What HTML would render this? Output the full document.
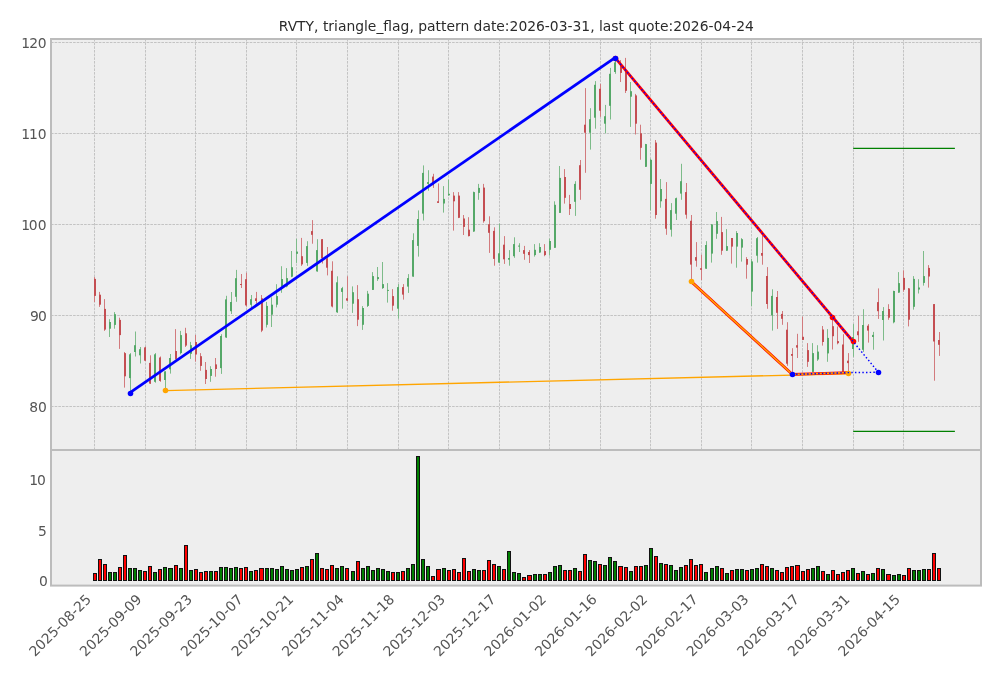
<!DOCTYPE html>
<html lang="en"><head><meta charset="utf-8"><title>RVTY triangle_flag</title>
<style>html,body{margin:0;padding:0;background:#fff;}body{width:1001px;height:678px;overflow:hidden;}svg{display:block;}text{font-family:"DejaVu Sans","Liberation Sans",sans-serif;font-size:13.89px;}.tk{fill:#555555;}.yt{letter-spacing:-0.6px;}.ttl{fill:#2b2b2b;}</style></head><body>
<svg width="1001" height="678" viewBox="0 0 1001 678">
<rect x="0" y="0" width="1001" height="678" fill="#ffffff"/>
<rect x="51.0" y="39.0" width="930.0" height="546.6" fill="#eeeeee"/>
<g stroke="#c3c3c3" stroke-width="1" stroke-dasharray="2.57 1.11" fill="none">
<line x1="94.50" y1="450.0" x2="94.50" y2="39.0"/>
<line x1="145.50" y1="450.0" x2="145.50" y2="39.0"/>
<line x1="195.50" y1="450.0" x2="195.50" y2="39.0"/>
<line x1="246.50" y1="450.0" x2="246.50" y2="39.0"/>
<line x1="296.50" y1="450.0" x2="296.50" y2="39.0"/>
<line x1="347.50" y1="450.0" x2="347.50" y2="39.0"/>
<line x1="398.50" y1="450.0" x2="398.50" y2="39.0"/>
<line x1="448.50" y1="450.0" x2="448.50" y2="39.0"/>
<line x1="499.50" y1="450.0" x2="499.50" y2="39.0"/>
<line x1="549.50" y1="450.0" x2="549.50" y2="39.0"/>
<line x1="600.50" y1="450.0" x2="600.50" y2="39.0"/>
<line x1="650.50" y1="450.0" x2="650.50" y2="39.0"/>
<line x1="701.50" y1="450.0" x2="701.50" y2="39.0"/>
<line x1="751.50" y1="450.0" x2="751.50" y2="39.0"/>
<line x1="802.50" y1="450.0" x2="802.50" y2="39.0"/>
<line x1="853.50" y1="450.0" x2="853.50" y2="39.0"/>
<line x1="903.50" y1="450.0" x2="903.50" y2="39.0"/>
<line x1="51.0" y1="406.50" x2="981.0" y2="406.50"/>
<line x1="51.0" y1="315.50" x2="981.0" y2="315.50"/>
<line x1="51.0" y1="224.50" x2="981.0" y2="224.50"/>
<line x1="51.0" y1="133.50" x2="981.0" y2="133.50"/>
<line x1="51.0" y1="42.50" x2="981.0" y2="42.50"/>
</g>
<g>
<rect x="94" y="277.1" width="1" height="24.9" fill="#d27a7d"/>
<rect x="99" y="291.9" width="1" height="15.0" fill="#d27a7d"/>
<rect x="104" y="299.1" width="1" height="31.8" fill="#d27a7d"/>
<rect x="109" y="319.2" width="1" height="17.8" fill="#7dbb89"/>
<rect x="114" y="312.1" width="1" height="16.6" fill="#7dbb89"/>
<rect x="119" y="317.7" width="1" height="31.2" fill="#d27a7d"/>
<rect x="124" y="352.0" width="1" height="35.6" fill="#d27a7d"/>
<rect x="130" y="353.1" width="1" height="37.9" fill="#7dbb89"/>
<rect x="135" y="331.5" width="1" height="25.0" fill="#7dbb89"/>
<rect x="140" y="347.0" width="1" height="16.5" fill="#7dbb89"/>
<rect x="145" y="346.7" width="1" height="14.4" fill="#d27a7d"/>
<rect x="150" y="355.3" width="1" height="28.7" fill="#d27a7d"/>
<rect x="155" y="353.1" width="1" height="29.6" fill="#7dbb89"/>
<rect x="160" y="356.5" width="1" height="25.3" fill="#d27a7d"/>
<rect x="165" y="371.4" width="1" height="19.2" fill="#7dbb89"/>
<rect x="170" y="354.0" width="1" height="19.6" fill="#7dbb89"/>
<rect x="175" y="329.1" width="1" height="30.4" fill="#d27a7d"/>
<rect x="180" y="330.9" width="1" height="23.4" fill="#7dbb89"/>
<rect x="185" y="327.8" width="1" height="19.2" fill="#d27a7d"/>
<rect x="190" y="341.9" width="1" height="17.0" fill="#7dbb89"/>
<rect x="195" y="334.9" width="1" height="26.7" fill="#d27a7d"/>
<rect x="200" y="353.1" width="1" height="17.7" fill="#d27a7d"/>
<rect x="205" y="362.0" width="1" height="22.0" fill="#d27a7d"/>
<rect x="210" y="366.2" width="1" height="15.6" fill="#7dbb89"/>
<rect x="215" y="358.0" width="1" height="18.7" fill="#d27a7d"/>
<rect x="221" y="334.2" width="1" height="39.7" fill="#7dbb89"/>
<rect x="226" y="295.8" width="1" height="42.1" fill="#7dbb89"/>
<rect x="231" y="292.0" width="1" height="22.0" fill="#7dbb89"/>
<rect x="236" y="269.9" width="1" height="31.9" fill="#7dbb89"/>
<rect x="241" y="274.0" width="1" height="14.0" fill="#d27a7d"/>
<rect x="246" y="272.7" width="1" height="33.9" fill="#d27a7d"/>
<rect x="251" y="295.0" width="1" height="13.0" fill="#7dbb89"/>
<rect x="256" y="291.9" width="1" height="11.8" fill="#d27a7d"/>
<rect x="261" y="295.0" width="1" height="37.1" fill="#d27a7d"/>
<rect x="266" y="301.9" width="1" height="25.6" fill="#7dbb89"/>
<rect x="271" y="297.3" width="1" height="29.7" fill="#7dbb89"/>
<rect x="276" y="284.2" width="1" height="23.2" fill="#7dbb89"/>
<rect x="281" y="266.2" width="1" height="26.6" fill="#7dbb89"/>
<rect x="286" y="268.1" width="1" height="19.2" fill="#7dbb89"/>
<rect x="291" y="251.0" width="1" height="26.2" fill="#7dbb89"/>
<rect x="296" y="238.8" width="1" height="24.1" fill="#7dbb89"/>
<rect x="301" y="237.9" width="1" height="28.0" fill="#d27a7d"/>
<rect x="307" y="241.2" width="1" height="24.7" fill="#7dbb89"/>
<rect x="312" y="220.1" width="1" height="23.6" fill="#d27a7d"/>
<rect x="317" y="239.2" width="1" height="32.5" fill="#7dbb89"/>
<rect x="322" y="239.2" width="1" height="24.3" fill="#d27a7d"/>
<rect x="327" y="247.0" width="1" height="28.4" fill="#d27a7d"/>
<rect x="332" y="261.3" width="1" height="46.1" fill="#d27a7d"/>
<rect x="337" y="276.3" width="1" height="36.6" fill="#7dbb89"/>
<rect x="342" y="286.9" width="1" height="21.8" fill="#7dbb89"/>
<rect x="347" y="276.3" width="1" height="24.7" fill="#d27a7d"/>
<rect x="352" y="286.4" width="1" height="26.5" fill="#7dbb89"/>
<rect x="357" y="285.1" width="1" height="41.0" fill="#d27a7d"/>
<rect x="362" y="306.1" width="1" height="23.8" fill="#7dbb89"/>
<rect x="367" y="290.9" width="1" height="16.1" fill="#7dbb89"/>
<rect x="372" y="272.1" width="1" height="17.8" fill="#7dbb89"/>
<rect x="377" y="267.0" width="1" height="13.9" fill="#7dbb89"/>
<rect x="382" y="262.0" width="1" height="26.9" fill="#7dbb89"/>
<rect x="387" y="283.1" width="1" height="19.5" fill="#7dbb89"/>
<rect x="392" y="289.1" width="1" height="21.6" fill="#d27a7d"/>
<rect x="398" y="284.1" width="1" height="34.6" fill="#7dbb89"/>
<rect x="403" y="284.1" width="1" height="15.5" fill="#d27a7d"/>
<rect x="408" y="274.1" width="1" height="18.8" fill="#7dbb89"/>
<rect x="413" y="233.3" width="1" height="43.4" fill="#7dbb89"/>
<rect x="418" y="210.4" width="1" height="46.2" fill="#7dbb89"/>
<rect x="423" y="165.4" width="1" height="55.1" fill="#7dbb89"/>
<rect x="428" y="170.2" width="1" height="20.5" fill="#7dbb89"/>
<rect x="433" y="173.8" width="1" height="14.1" fill="#d27a7d"/>
<rect x="438" y="183.4" width="1" height="19.5" fill="#d27a7d"/>
<rect x="443" y="186.1" width="1" height="26.5" fill="#7dbb89"/>
<rect x="448" y="179.7" width="1" height="15.9" fill="#7dbb89"/>
<rect x="453" y="192.1" width="1" height="38.5" fill="#d27a7d"/>
<rect x="458" y="192.1" width="1" height="26.0" fill="#d27a7d"/>
<rect x="463" y="215.0" width="1" height="20.0" fill="#d27a7d"/>
<rect x="468" y="217.2" width="1" height="19.2" fill="#d27a7d"/>
<rect x="473" y="191.6" width="1" height="40.3" fill="#7dbb89"/>
<rect x="478" y="183.9" width="1" height="15.9" fill="#7dbb89"/>
<rect x="483" y="183.9" width="1" height="38.8" fill="#d27a7d"/>
<rect x="489" y="216.3" width="1" height="36.6" fill="#d27a7d"/>
<rect x="494" y="227.3" width="1" height="38.4" fill="#d27a7d"/>
<rect x="499" y="223.6" width="1" height="39.4" fill="#7dbb89"/>
<rect x="504" y="236.1" width="1" height="27.8" fill="#d27a7d"/>
<rect x="509" y="250.1" width="1" height="15.6" fill="#7dbb89"/>
<rect x="514" y="237.3" width="1" height="20.5" fill="#7dbb89"/>
<rect x="519" y="243.2" width="1" height="8.8" fill="#7dbb89"/>
<rect x="524" y="245.9" width="1" height="13.9" fill="#d27a7d"/>
<rect x="529" y="250.1" width="1" height="12.9" fill="#d27a7d"/>
<rect x="534" y="244.1" width="1" height="12.5" fill="#7dbb89"/>
<rect x="539" y="243.2" width="1" height="9.7" fill="#7dbb89"/>
<rect x="544" y="244.1" width="1" height="12.1" fill="#d27a7d"/>
<rect x="549" y="238.6" width="1" height="17.0" fill="#7dbb89"/>
<rect x="554" y="201.3" width="1" height="46.5" fill="#7dbb89"/>
<rect x="559" y="166.0" width="1" height="46.6" fill="#7dbb89"/>
<rect x="564" y="169.1" width="1" height="34.5" fill="#d27a7d"/>
<rect x="569" y="194.9" width="1" height="20.1" fill="#d27a7d"/>
<rect x="575" y="181.2" width="1" height="34.7" fill="#7dbb89"/>
<rect x="580" y="160.0" width="1" height="39.8" fill="#d27a7d"/>
<rect x="585" y="88.1" width="1" height="84.7" fill="#d27a7d"/>
<rect x="590" y="108.2" width="1" height="41.4" fill="#7dbb89"/>
<rect x="595" y="81.1" width="1" height="47.6" fill="#7dbb89"/>
<rect x="600" y="83.9" width="1" height="32.9" fill="#d27a7d"/>
<rect x="605" y="104.9" width="1" height="28.4" fill="#7dbb89"/>
<rect x="610" y="67.9" width="1" height="51.6" fill="#7dbb89"/>
<rect x="615" y="58.5" width="1" height="15.3" fill="#7dbb89"/>
<rect x="620" y="60.1" width="1" height="21.9" fill="#d27a7d"/>
<rect x="625" y="57.9" width="1" height="35.1" fill="#d27a7d"/>
<rect x="630" y="82.0" width="1" height="44.9" fill="#7dbb89"/>
<rect x="635" y="93.9" width="1" height="40.6" fill="#d27a7d"/>
<rect x="640" y="124.7" width="1" height="35.0" fill="#d27a7d"/>
<rect x="645" y="143.9" width="1" height="23.1" fill="#7dbb89"/>
<rect x="650" y="158.6" width="1" height="51.8" fill="#7dbb89"/>
<rect x="655" y="140.0" width="1" height="78.7" fill="#d27a7d"/>
<rect x="660" y="179.0" width="1" height="28.7" fill="#7dbb89"/>
<rect x="666" y="182.1" width="1" height="52.7" fill="#d27a7d"/>
<rect x="671" y="203.1" width="1" height="33.5" fill="#7dbb89"/>
<rect x="676" y="197.6" width="1" height="22.4" fill="#7dbb89"/>
<rect x="681" y="163.8" width="1" height="36.0" fill="#7dbb89"/>
<rect x="686" y="183.0" width="1" height="35.7" fill="#d27a7d"/>
<rect x="691" y="215.0" width="1" height="66.5" fill="#d27a7d"/>
<rect x="696" y="242.1" width="1" height="24.6" fill="#d27a7d"/>
<rect x="701" y="254.8" width="1" height="25.3" fill="#d27a7d"/>
<rect x="706" y="241.2" width="1" height="27.6" fill="#7dbb89"/>
<rect x="711" y="224.2" width="1" height="38.4" fill="#7dbb89"/>
<rect x="716" y="212.0" width="1" height="26.8" fill="#7dbb89"/>
<rect x="721" y="216.9" width="1" height="37.9" fill="#d27a7d"/>
<rect x="726" y="229.1" width="1" height="21.9" fill="#7dbb89"/>
<rect x="731" y="238.0" width="1" height="25.6" fill="#d27a7d"/>
<rect x="736" y="231.1" width="1" height="36.6" fill="#7dbb89"/>
<rect x="741" y="238.1" width="1" height="23.5" fill="#7dbb89"/>
<rect x="746" y="257.1" width="1" height="21.6" fill="#d27a7d"/>
<rect x="751" y="259.0" width="1" height="47.2" fill="#7dbb89"/>
<rect x="757" y="237.0" width="1" height="25.6" fill="#7dbb89"/>
<rect x="762" y="235.4" width="1" height="29.3" fill="#d27a7d"/>
<rect x="767" y="267.1" width="1" height="41.7" fill="#d27a7d"/>
<rect x="772" y="289.3" width="1" height="41.3" fill="#7dbb89"/>
<rect x="777" y="291.0" width="1" height="37.9" fill="#d27a7d"/>
<rect x="782" y="311.0" width="1" height="13.8" fill="#d27a7d"/>
<rect x="787" y="322.2" width="1" height="43.6" fill="#d27a7d"/>
<rect x="792" y="348.2" width="1" height="23.7" fill="#d27a7d"/>
<rect x="797" y="333.8" width="1" height="24.2" fill="#d27a7d"/>
<rect x="802" y="316.6" width="1" height="23.3" fill="#d27a7d"/>
<rect x="807" y="343.1" width="1" height="23.8" fill="#d27a7d"/>
<rect x="812" y="343.1" width="1" height="28.8" fill="#7dbb89"/>
<rect x="817" y="345.2" width="1" height="15.7" fill="#7dbb89"/>
<rect x="822" y="326.0" width="1" height="19.6" fill="#d27a7d"/>
<rect x="827" y="329.1" width="1" height="32.7" fill="#7dbb89"/>
<rect x="832" y="316.9" width="1" height="32.6" fill="#d27a7d"/>
<rect x="837" y="326.5" width="1" height="17.8" fill="#d27a7d"/>
<rect x="843" y="334.2" width="1" height="37.7" fill="#d27a7d"/>
<rect x="848" y="353.1" width="1" height="18.8" fill="#d27a7d"/>
<rect x="853" y="324.1" width="1" height="32.7" fill="#7dbb89"/>
<rect x="858" y="315.8" width="1" height="26.0" fill="#d27a7d"/>
<rect x="863" y="309.2" width="1" height="42.7" fill="#7dbb89"/>
<rect x="868" y="324.1" width="1" height="18.5" fill="#d27a7d"/>
<rect x="873" y="331.9" width="1" height="17.8" fill="#7dbb89"/>
<rect x="878" y="288.4" width="1" height="30.5" fill="#d27a7d"/>
<rect x="883" y="307.1" width="1" height="33.4" fill="#7dbb89"/>
<rect x="888" y="304.2" width="1" height="15.6" fill="#d27a7d"/>
<rect x="893" y="290.7" width="1" height="32.6" fill="#7dbb89"/>
<rect x="898" y="272.1" width="1" height="20.8" fill="#7dbb89"/>
<rect x="903" y="270.3" width="1" height="21.4" fill="#d27a7d"/>
<rect x="908" y="288.0" width="1" height="38.4" fill="#d27a7d"/>
<rect x="913" y="276.1" width="1" height="33.5" fill="#7dbb89"/>
<rect x="918" y="279.2" width="1" height="14.3" fill="#7dbb89"/>
<rect x="923" y="251.0" width="1" height="34.6" fill="#7dbb89"/>
<rect x="928" y="265.1" width="1" height="22.5" fill="#d27a7d"/>
<rect x="934" y="304.1" width="1" height="76.6" fill="#d27a7d"/>
<rect x="939" y="332.0" width="1" height="23.9" fill="#d27a7d"/>
</g><g>
<rect x="94" y="278.9" width="2" height="17.0" fill="#c44e52"/>
<rect x="99" y="294.7" width="2" height="10.0" fill="#c44e52"/>
<rect x="104" y="308.9" width="2" height="20.7" fill="#c44e52"/>
<rect x="109" y="322.0" width="2" height="6.7" fill="#55a868"/>
<rect x="114" y="314.2" width="2" height="10.7" fill="#55a868"/>
<rect x="119" y="319.9" width="2" height="15.2" fill="#c44e52"/>
<rect x="124" y="353.1" width="2" height="23.2" fill="#c44e52"/>
<rect x="129" y="354.3" width="2" height="23.8" fill="#55a868"/>
<rect x="134" y="345.2" width="2" height="6.8" fill="#55a868"/>
<rect x="139" y="349.2" width="2" height="6.1" fill="#55a868"/>
<rect x="144" y="347.4" width="2" height="13.3" fill="#c44e52"/>
<rect x="149" y="362.9" width="2" height="20.7" fill="#c44e52"/>
<rect x="154" y="354.3" width="2" height="27.5" fill="#55a868"/>
<rect x="159" y="357.5" width="2" height="23.4" fill="#c44e52"/>
<rect x="164" y="371.4" width="2" height="8.6" fill="#55a868"/>
<rect x="169" y="358.0" width="2" height="11.3" fill="#55a868"/>
<rect x="175" y="351.0" width="2" height="7.9" fill="#c44e52"/>
<rect x="180" y="335.1" width="2" height="18.0" fill="#55a868"/>
<rect x="185" y="333.3" width="2" height="12.3" fill="#c44e52"/>
<rect x="190" y="345.2" width="2" height="8.6" fill="#55a868"/>
<rect x="195" y="342.0" width="2" height="12.5" fill="#c44e52"/>
<rect x="200" y="356.2" width="2" height="9.7" fill="#c44e52"/>
<rect x="205" y="369.9" width="2" height="9.1" fill="#c44e52"/>
<rect x="210" y="369.0" width="2" height="6.9" fill="#55a868"/>
<rect x="215" y="364.4" width="2" height="4.6" fill="#c44e52"/>
<rect x="220" y="336.0" width="2" height="32.1" fill="#55a868"/>
<rect x="225" y="299.4" width="2" height="38.1" fill="#55a868"/>
<rect x="230" y="302.0" width="2" height="9.2" fill="#55a868"/>
<rect x="235" y="278.2" width="2" height="18.6" fill="#55a868"/>
<rect x="240" y="284.0" width="2" height="1.0" fill="#c44e52"/>
<rect x="245" y="279.2" width="2" height="26.2" fill="#c44e52"/>
<rect x="250" y="299.2" width="2" height="5.6" fill="#55a868"/>
<rect x="255" y="298.3" width="2" height="2.7" fill="#c44e52"/>
<rect x="261" y="298.3" width="2" height="32.3" fill="#c44e52"/>
<rect x="266" y="305.9" width="2" height="18.9" fill="#55a868"/>
<rect x="271" y="304.7" width="2" height="10.0" fill="#55a868"/>
<rect x="276" y="296.1" width="2" height="8.6" fill="#55a868"/>
<rect x="281" y="279.0" width="2" height="7.4" fill="#55a868"/>
<rect x="286" y="278.1" width="2" height="8.3" fill="#55a868"/>
<rect x="291" y="267.2" width="2" height="9.5" fill="#55a868"/>
<rect x="296" y="251.6" width="2" height="2.2" fill="#55a868"/>
<rect x="301" y="256.2" width="2" height="8.2" fill="#c44e52"/>
<rect x="306" y="246.1" width="2" height="16.8" fill="#55a868"/>
<rect x="311" y="231.1" width="2" height="3.7" fill="#c44e52"/>
<rect x="316" y="250.1" width="2" height="21.3" fill="#55a868"/>
<rect x="321" y="239.2" width="2" height="19.2" fill="#c44e52"/>
<rect x="326" y="258.4" width="2" height="9.3" fill="#c44e52"/>
<rect x="331" y="270.8" width="2" height="35.7" fill="#c44e52"/>
<rect x="336" y="282.3" width="2" height="30.0" fill="#55a868"/>
<rect x="341" y="288.2" width="2" height="3.7" fill="#55a868"/>
<rect x="346" y="298.3" width="2" height="2.3" fill="#c44e52"/>
<rect x="352" y="292.2" width="2" height="11.5" fill="#55a868"/>
<rect x="357" y="299.2" width="2" height="20.5" fill="#c44e52"/>
<rect x="362" y="308.0" width="2" height="16.8" fill="#55a868"/>
<rect x="367" y="293.7" width="2" height="12.2" fill="#55a868"/>
<rect x="372" y="276.1" width="2" height="13.8" fill="#55a868"/>
<rect x="377" y="277.1" width="2" height="2.0" fill="#55a868"/>
<rect x="382" y="284.1" width="2" height="4.0" fill="#55a868"/>
<rect x="387" y="289.9" width="2" height="1.0" fill="#55a868"/>
<rect x="392" y="296.1" width="2" height="9.6" fill="#c44e52"/>
<rect x="397" y="287.1" width="2" height="21.6" fill="#55a868"/>
<rect x="402" y="287.1" width="2" height="7.5" fill="#c44e52"/>
<rect x="407" y="278.1" width="2" height="8.5" fill="#55a868"/>
<rect x="412" y="240.1" width="2" height="36.5" fill="#55a868"/>
<rect x="417" y="219.0" width="2" height="26.9" fill="#55a868"/>
<rect x="422" y="172.9" width="2" height="40.7" fill="#55a868"/>
<rect x="427" y="182.1" width="2" height="1.8" fill="#55a868"/>
<rect x="432" y="176.6" width="2" height="8.6" fill="#c44e52"/>
<rect x="437" y="201.3" width="2" height="1.6" fill="#c44e52"/>
<rect x="443" y="198.9" width="2" height="4.6" fill="#55a868"/>
<rect x="448" y="193.8" width="2" height="1.5" fill="#55a868"/>
<rect x="453" y="195.6" width="2" height="5.7" fill="#c44e52"/>
<rect x="458" y="195.6" width="2" height="22.2" fill="#c44e52"/>
<rect x="463" y="218.5" width="2" height="8.4" fill="#c44e52"/>
<rect x="468" y="229.7" width="2" height="6.4" fill="#c44e52"/>
<rect x="473" y="192.1" width="2" height="39.4" fill="#55a868"/>
<rect x="478" y="187.9" width="2" height="5.0" fill="#55a868"/>
<rect x="483" y="187.6" width="2" height="33.6" fill="#c44e52"/>
<rect x="488" y="224.2" width="2" height="8.6" fill="#c44e52"/>
<rect x="493" y="230.9" width="2" height="28.0" fill="#c44e52"/>
<rect x="498" y="253.3" width="2" height="9.3" fill="#55a868"/>
<rect x="503" y="244.7" width="2" height="14.6" fill="#c44e52"/>
<rect x="508" y="258.0" width="2" height="1.7" fill="#55a868"/>
<rect x="513" y="244.1" width="2" height="12.1" fill="#55a868"/>
<rect x="518" y="245.6" width="2" height="1.0" fill="#55a868"/>
<rect x="523" y="250.1" width="2" height="3.7" fill="#c44e52"/>
<rect x="528" y="252.0" width="2" height="3.1" fill="#c44e52"/>
<rect x="534" y="249.8" width="2" height="5.3" fill="#55a868"/>
<rect x="539" y="247.0" width="2" height="5.5" fill="#55a868"/>
<rect x="544" y="251.1" width="2" height="4.0" fill="#c44e52"/>
<rect x="549" y="241.0" width="2" height="8.8" fill="#55a868"/>
<rect x="554" y="204.8" width="2" height="43.0" fill="#55a868"/>
<rect x="559" y="177.9" width="2" height="35.0" fill="#55a868"/>
<rect x="564" y="177.0" width="2" height="20.8" fill="#c44e52"/>
<rect x="569" y="204.0" width="2" height="5.0" fill="#c44e52"/>
<rect x="574" y="183.9" width="2" height="17.9" fill="#55a868"/>
<rect x="579" y="165.2" width="2" height="24.6" fill="#c44e52"/>
<rect x="584" y="124.7" width="2" height="8.0" fill="#c44e52"/>
<rect x="589" y="119.2" width="2" height="13.5" fill="#55a868"/>
<rect x="594" y="84.8" width="2" height="32.9" fill="#55a868"/>
<rect x="599" y="88.8" width="2" height="21.9" fill="#c44e52"/>
<rect x="604" y="116.2" width="2" height="7.5" fill="#55a868"/>
<rect x="609" y="73.8" width="2" height="32.0" fill="#55a868"/>
<rect x="614" y="62.4" width="2" height="9.6" fill="#55a868"/>
<rect x="620" y="65.6" width="2" height="7.3" fill="#c44e52"/>
<rect x="625" y="70.5" width="2" height="20.3" fill="#c44e52"/>
<rect x="630" y="91.2" width="2" height="5.5" fill="#55a868"/>
<rect x="635" y="95.4" width="2" height="28.3" fill="#c44e52"/>
<rect x="640" y="133.3" width="2" height="14.5" fill="#c44e52"/>
<rect x="645" y="144.1" width="2" height="22.7" fill="#55a868"/>
<rect x="650" y="159.8" width="2" height="24.1" fill="#55a868"/>
<rect x="655" y="142.6" width="2" height="72.4" fill="#c44e52"/>
<rect x="660" y="189.0" width="2" height="12.3" fill="#55a868"/>
<rect x="665" y="198.9" width="2" height="29.8" fill="#c44e52"/>
<rect x="670" y="210.1" width="2" height="19.6" fill="#55a868"/>
<rect x="675" y="198.2" width="2" height="15.5" fill="#55a868"/>
<rect x="680" y="181.2" width="2" height="12.4" fill="#55a868"/>
<rect x="685" y="192.1" width="2" height="22.6" fill="#c44e52"/>
<rect x="690" y="220.8" width="2" height="43.8" fill="#c44e52"/>
<rect x="695" y="257.1" width="2" height="3.6" fill="#c44e52"/>
<rect x="700" y="268.2" width="2" height="1.6" fill="#c44e52"/>
<rect x="705" y="245.0" width="2" height="23.7" fill="#55a868"/>
<rect x="711" y="224.4" width="2" height="29.2" fill="#55a868"/>
<rect x="716" y="221.1" width="2" height="12.7" fill="#55a868"/>
<rect x="721" y="232.1" width="2" height="18.6" fill="#c44e52"/>
<rect x="726" y="246.1" width="2" height="4.6" fill="#55a868"/>
<rect x="731" y="238.0" width="2" height="8.6" fill="#c44e52"/>
<rect x="736" y="233.0" width="2" height="13.6" fill="#55a868"/>
<rect x="741" y="239.2" width="2" height="8.4" fill="#55a868"/>
<rect x="746" y="259.0" width="2" height="5.7" fill="#c44e52"/>
<rect x="751" y="261.4" width="2" height="30.2" fill="#55a868"/>
<rect x="756" y="238.2" width="2" height="17.5" fill="#55a868"/>
<rect x="761" y="253.0" width="2" height="2.7" fill="#c44e52"/>
<rect x="766" y="276.0" width="2" height="28.0" fill="#c44e52"/>
<rect x="771" y="295.9" width="2" height="19.6" fill="#55a868"/>
<rect x="776" y="297.0" width="2" height="15.8" fill="#c44e52"/>
<rect x="781" y="313.9" width="2" height="4.9" fill="#c44e52"/>
<rect x="786" y="329.7" width="2" height="34.0" fill="#c44e52"/>
<rect x="791" y="354.0" width="2" height="1.8" fill="#c44e52"/>
<rect x="796" y="345.2" width="2" height="2.4" fill="#c44e52"/>
<rect x="802" y="336.8" width="2" height="3.1" fill="#c44e52"/>
<rect x="807" y="350.1" width="2" height="11.7" fill="#c44e52"/>
<rect x="812" y="353.1" width="2" height="18.8" fill="#55a868"/>
<rect x="817" y="351.6" width="2" height="7.9" fill="#55a868"/>
<rect x="822" y="329.5" width="2" height="12.5" fill="#c44e52"/>
<rect x="827" y="337.9" width="2" height="15.5" fill="#55a868"/>
<rect x="832" y="326.2" width="2" height="10.0" fill="#c44e52"/>
<rect x="837" y="341.1" width="2" height="2.1" fill="#c44e52"/>
<rect x="842" y="344.5" width="2" height="27.4" fill="#c44e52"/>
<rect x="847" y="360.7" width="2" height="2.4" fill="#c44e52"/>
<rect x="852" y="337.0" width="2" height="12.0" fill="#55a868"/>
<rect x="857" y="331.3" width="2" height="3.9" fill="#c44e52"/>
<rect x="862" y="325.0" width="2" height="24.8" fill="#55a868"/>
<rect x="867" y="325.7" width="2" height="4.9" fill="#c44e52"/>
<rect x="872" y="334.9" width="2" height="2.1" fill="#55a868"/>
<rect x="877" y="302.1" width="2" height="9.1" fill="#c44e52"/>
<rect x="882" y="311.0" width="2" height="9.0" fill="#55a868"/>
<rect x="888" y="309.0" width="2" height="8.7" fill="#c44e52"/>
<rect x="893" y="291.0" width="2" height="31.3" fill="#55a868"/>
<rect x="898" y="283.1" width="2" height="9.5" fill="#55a868"/>
<rect x="903" y="277.9" width="2" height="11.9" fill="#c44e52"/>
<rect x="908" y="288.4" width="2" height="31.3" fill="#c44e52"/>
<rect x="913" y="278.9" width="2" height="27.9" fill="#55a868"/>
<rect x="918" y="287.5" width="2" height="2.0" fill="#55a868"/>
<rect x="923" y="276.1" width="2" height="6.8" fill="#55a868"/>
<rect x="928" y="267.9" width="2" height="8.6" fill="#c44e52"/>
<rect x="933" y="304.1" width="2" height="37.4" fill="#c44e52"/>
<rect x="938" y="340.0" width="2" height="4.8" fill="#c44e52"/>
</g>
<line x1="165.4" y1="390.6" x2="848.1" y2="373.7" stroke="#ffa500" stroke-width="1.4"/>
<circle cx="165.5" cy="390.5" r="2.78" fill="#ffa500"/>
<line x1="615.46" y1="58.2" x2="853.1" y2="341.5" stroke="#ff0000" stroke-width="2.8"/>
<circle cx="615.5" cy="58.5" r="2.78" fill="#ff0000"/>
<circle cx="832.5" cy="317.5" r="2.78" fill="#ff0000"/>
<circle cx="853.5" cy="341.5" r="2.78" fill="#ff0000"/>
<polyline points="691.3,281.6 792.44,374.45 848.1,372.6" fill="none" stroke="#ff0000" stroke-width="2.8" stroke-linejoin="round"/>
<polyline points="691.3,281.6 792.44,374.45 848.1,372.6" fill="none" stroke="#ffa500" stroke-width="1.5" stroke-linejoin="round"/>
<circle cx="691.5" cy="281.5" r="2.78" fill="#ffa500"/>
<circle cx="848.5" cy="373.5" r="2.78" fill="#ffa500"/>
<line x1="130.04" y1="392.6" x2="615.46" y2="57.3" stroke="#0000ff" stroke-width="2.8" stroke-linecap="butt"/>
<g stroke="#0000ff" stroke-width="1.45" stroke-dasharray="1.45 2.23" fill="none">
<polyline points="615.46,58.2 853.1,341.5 878.4,372.3"/>
<polyline points="792.44,374.45 848.1,372.6 878.4,372.3"/>
</g>
<line x1="853.2" y1="148.4" x2="954.9" y2="148.4" stroke="#008000" stroke-width="1.4"/>
<line x1="853.2" y1="431.4" x2="954.9" y2="431.4" stroke="#008000" stroke-width="1.4"/>
<circle cx="130.5" cy="393.5" r="2.78" fill="#0000ff"/>
<circle cx="615.5" cy="58.5" r="2.78" fill="#0000ff"/>
<circle cx="792.5" cy="374.5" r="2.78" fill="#0000ff"/>
<circle cx="878.5" cy="372.5" r="2.78" fill="#0000ff"/>
<g shape-rendering="crispEdges">
<rect x="93" y="573" width="4" height="8" fill="#111111"/><rect x="94" y="574" width="2" height="6" fill="#ff0000"/>
<rect x="98" y="559" width="4" height="22" fill="#111111"/><rect x="99" y="560" width="2" height="20" fill="#ff0000"/>
<rect x="103" y="564" width="4" height="17" fill="#111111"/><rect x="104" y="565" width="2" height="15" fill="#ff0000"/>
<rect x="108" y="572" width="4" height="9" fill="#111111"/><rect x="109" y="573" width="2" height="7" fill="#008000"/>
<rect x="113" y="572" width="4" height="9" fill="#111111"/><rect x="114" y="573" width="2" height="7" fill="#008000"/>
<rect x="118" y="567" width="4" height="14" fill="#111111"/><rect x="119" y="568" width="2" height="12" fill="#ff0000"/>
<rect x="123" y="555" width="4" height="26" fill="#111111"/><rect x="124" y="556" width="2" height="24" fill="#ff0000"/>
<rect x="128" y="568" width="4" height="13" fill="#111111"/><rect x="129" y="569" width="2" height="11" fill="#008000"/>
<rect x="133" y="568" width="4" height="13" fill="#111111"/><rect x="134" y="569" width="2" height="11" fill="#008000"/>
<rect x="138" y="570" width="4" height="11" fill="#111111"/><rect x="139" y="571" width="2" height="9" fill="#008000"/>
<rect x="143" y="571" width="4" height="10" fill="#111111"/><rect x="144" y="572" width="2" height="8" fill="#ff0000"/>
<rect x="148" y="566" width="4" height="15" fill="#111111"/><rect x="149" y="567" width="2" height="13" fill="#ff0000"/>
<rect x="153" y="572" width="4" height="9" fill="#111111"/><rect x="154" y="573" width="2" height="7" fill="#008000"/>
<rect x="158" y="569" width="4" height="12" fill="#111111"/><rect x="159" y="570" width="2" height="10" fill="#ff0000"/>
<rect x="163" y="567" width="4" height="14" fill="#111111"/><rect x="164" y="568" width="2" height="12" fill="#008000"/>
<rect x="168" y="568" width="5" height="13" fill="#111111"/><rect x="169" y="569" width="3" height="11" fill="#008000"/>
<rect x="174" y="565" width="4" height="16" fill="#111111"/><rect x="175" y="566" width="2" height="14" fill="#ff0000"/>
<rect x="179" y="568" width="4" height="13" fill="#111111"/><rect x="180" y="569" width="2" height="11" fill="#008000"/>
<rect x="184" y="545" width="4" height="36" fill="#111111"/><rect x="185" y="546" width="2" height="34" fill="#ff0000"/>
<rect x="189" y="570" width="4" height="11" fill="#111111"/><rect x="190" y="571" width="2" height="9" fill="#008000"/>
<rect x="194" y="569" width="4" height="12" fill="#111111"/><rect x="195" y="570" width="2" height="10" fill="#ff0000"/>
<rect x="199" y="572" width="4" height="9" fill="#111111"/><rect x="200" y="573" width="2" height="7" fill="#ff0000"/>
<rect x="204" y="571" width="4" height="10" fill="#111111"/><rect x="205" y="572" width="2" height="8" fill="#ff0000"/>
<rect x="209" y="571" width="4" height="10" fill="#111111"/><rect x="210" y="572" width="2" height="8" fill="#008000"/>
<rect x="214" y="571" width="4" height="10" fill="#111111"/><rect x="215" y="572" width="2" height="8" fill="#ff0000"/>
<rect x="219" y="567" width="4" height="14" fill="#111111"/><rect x="220" y="568" width="2" height="12" fill="#008000"/>
<rect x="224" y="567" width="4" height="14" fill="#111111"/><rect x="225" y="568" width="2" height="12" fill="#008000"/>
<rect x="229" y="568" width="4" height="13" fill="#111111"/><rect x="230" y="569" width="2" height="11" fill="#008000"/>
<rect x="234" y="567" width="4" height="14" fill="#111111"/><rect x="235" y="568" width="2" height="12" fill="#008000"/>
<rect x="239" y="568" width="4" height="13" fill="#111111"/><rect x="240" y="569" width="2" height="11" fill="#ff0000"/>
<rect x="244" y="567" width="4" height="14" fill="#111111"/><rect x="245" y="568" width="2" height="12" fill="#ff0000"/>
<rect x="249" y="571" width="4" height="10" fill="#111111"/><rect x="250" y="572" width="2" height="8" fill="#008000"/>
<rect x="254" y="570" width="4" height="11" fill="#111111"/><rect x="255" y="571" width="2" height="9" fill="#ff0000"/>
<rect x="259" y="568" width="5" height="13" fill="#111111"/><rect x="260" y="569" width="3" height="11" fill="#ff0000"/>
<rect x="265" y="568" width="4" height="13" fill="#111111"/><rect x="266" y="569" width="2" height="11" fill="#008000"/>
<rect x="270" y="568" width="4" height="13" fill="#111111"/><rect x="271" y="569" width="2" height="11" fill="#008000"/>
<rect x="275" y="569" width="4" height="12" fill="#111111"/><rect x="276" y="570" width="2" height="10" fill="#008000"/>
<rect x="280" y="566" width="4" height="15" fill="#111111"/><rect x="281" y="567" width="2" height="13" fill="#008000"/>
<rect x="285" y="569" width="4" height="12" fill="#111111"/><rect x="286" y="570" width="2" height="10" fill="#008000"/>
<rect x="290" y="570" width="4" height="11" fill="#111111"/><rect x="291" y="571" width="2" height="9" fill="#008000"/>
<rect x="295" y="569" width="4" height="12" fill="#111111"/><rect x="296" y="570" width="2" height="10" fill="#008000"/>
<rect x="300" y="567" width="4" height="14" fill="#111111"/><rect x="301" y="568" width="2" height="12" fill="#ff0000"/>
<rect x="305" y="566" width="4" height="15" fill="#111111"/><rect x="306" y="567" width="2" height="13" fill="#008000"/>
<rect x="310" y="559" width="4" height="22" fill="#111111"/><rect x="311" y="560" width="2" height="20" fill="#ff0000"/>
<rect x="315" y="553" width="4" height="28" fill="#111111"/><rect x="316" y="554" width="2" height="26" fill="#008000"/>
<rect x="320" y="568" width="4" height="13" fill="#111111"/><rect x="321" y="569" width="2" height="11" fill="#ff0000"/>
<rect x="325" y="569" width="4" height="12" fill="#111111"/><rect x="326" y="570" width="2" height="10" fill="#ff0000"/>
<rect x="330" y="565" width="4" height="16" fill="#111111"/><rect x="331" y="566" width="2" height="14" fill="#ff0000"/>
<rect x="335" y="568" width="4" height="13" fill="#111111"/><rect x="336" y="569" width="2" height="11" fill="#008000"/>
<rect x="340" y="566" width="4" height="15" fill="#111111"/><rect x="341" y="567" width="2" height="13" fill="#008000"/>
<rect x="345" y="568" width="4" height="13" fill="#111111"/><rect x="346" y="569" width="2" height="11" fill="#ff0000"/>
<rect x="351" y="571" width="4" height="10" fill="#111111"/><rect x="352" y="572" width="2" height="8" fill="#008000"/>
<rect x="356" y="561" width="4" height="20" fill="#111111"/><rect x="357" y="562" width="2" height="18" fill="#ff0000"/>
<rect x="361" y="568" width="4" height="13" fill="#111111"/><rect x="362" y="569" width="2" height="11" fill="#008000"/>
<rect x="366" y="566" width="4" height="15" fill="#111111"/><rect x="367" y="567" width="2" height="13" fill="#008000"/>
<rect x="371" y="570" width="4" height="11" fill="#111111"/><rect x="372" y="571" width="2" height="9" fill="#008000"/>
<rect x="376" y="568" width="4" height="13" fill="#111111"/><rect x="377" y="569" width="2" height="11" fill="#008000"/>
<rect x="381" y="569" width="4" height="12" fill="#111111"/><rect x="382" y="570" width="2" height="10" fill="#008000"/>
<rect x="386" y="571" width="4" height="10" fill="#111111"/><rect x="387" y="572" width="2" height="8" fill="#008000"/>
<rect x="391" y="572" width="4" height="9" fill="#111111"/><rect x="392" y="573" width="2" height="7" fill="#ff0000"/>
<rect x="396" y="572" width="4" height="9" fill="#111111"/><rect x="397" y="573" width="2" height="7" fill="#008000"/>
<rect x="401" y="571" width="4" height="10" fill="#111111"/><rect x="402" y="572" width="2" height="8" fill="#ff0000"/>
<rect x="406" y="568" width="4" height="13" fill="#111111"/><rect x="407" y="569" width="2" height="11" fill="#008000"/>
<rect x="411" y="564" width="4" height="17" fill="#111111"/><rect x="412" y="565" width="2" height="15" fill="#008000"/>
<rect x="416" y="456" width="4" height="125" fill="#111111"/><rect x="417" y="457" width="2" height="123" fill="#008000"/>
<rect x="421" y="559" width="4" height="22" fill="#111111"/><rect x="422" y="560" width="2" height="20" fill="#008000"/>
<rect x="426" y="566" width="4" height="15" fill="#111111"/><rect x="427" y="567" width="2" height="13" fill="#008000"/>
<rect x="431" y="576" width="4" height="5" fill="#111111"/><rect x="432" y="577" width="2" height="3" fill="#ff0000"/>
<rect x="436" y="569" width="5" height="12" fill="#111111"/><rect x="437" y="570" width="3" height="10" fill="#ff0000"/>
<rect x="442" y="568" width="4" height="13" fill="#111111"/><rect x="443" y="569" width="2" height="11" fill="#008000"/>
<rect x="447" y="570" width="4" height="11" fill="#111111"/><rect x="448" y="571" width="2" height="9" fill="#ff0000"/>
<rect x="452" y="569" width="4" height="12" fill="#111111"/><rect x="453" y="570" width="2" height="10" fill="#ff0000"/>
<rect x="457" y="572" width="4" height="9" fill="#111111"/><rect x="458" y="573" width="2" height="7" fill="#ff0000"/>
<rect x="462" y="558" width="4" height="23" fill="#111111"/><rect x="463" y="559" width="2" height="21" fill="#ff0000"/>
<rect x="467" y="571" width="4" height="10" fill="#111111"/><rect x="468" y="572" width="2" height="8" fill="#ff0000"/>
<rect x="472" y="569" width="4" height="12" fill="#111111"/><rect x="473" y="570" width="2" height="10" fill="#008000"/>
<rect x="477" y="570" width="4" height="11" fill="#111111"/><rect x="478" y="571" width="2" height="9" fill="#008000"/>
<rect x="482" y="570" width="4" height="11" fill="#111111"/><rect x="483" y="571" width="2" height="9" fill="#ff0000"/>
<rect x="487" y="560" width="4" height="21" fill="#111111"/><rect x="488" y="561" width="2" height="19" fill="#ff0000"/>
<rect x="492" y="564" width="4" height="17" fill="#111111"/><rect x="493" y="565" width="2" height="15" fill="#ff0000"/>
<rect x="497" y="566" width="4" height="15" fill="#111111"/><rect x="498" y="567" width="2" height="13" fill="#008000"/>
<rect x="502" y="569" width="4" height="12" fill="#111111"/><rect x="503" y="570" width="2" height="10" fill="#ff0000"/>
<rect x="507" y="551" width="4" height="30" fill="#111111"/><rect x="508" y="552" width="2" height="28" fill="#008000"/>
<rect x="512" y="572" width="4" height="9" fill="#111111"/><rect x="513" y="573" width="2" height="7" fill="#008000"/>
<rect x="517" y="573" width="4" height="8" fill="#111111"/><rect x="518" y="574" width="2" height="6" fill="#008000"/>
<rect x="522" y="577" width="4" height="4" fill="#111111"/><rect x="523" y="578" width="2" height="2" fill="#ff0000"/>
<rect x="527" y="575" width="5" height="6" fill="#111111"/><rect x="528" y="576" width="3" height="4" fill="#ff0000"/>
<rect x="533" y="574" width="4" height="7" fill="#111111"/><rect x="534" y="575" width="2" height="5" fill="#008000"/>
<rect x="538" y="574" width="4" height="7" fill="#111111"/><rect x="539" y="575" width="2" height="5" fill="#008000"/>
<rect x="543" y="574" width="4" height="7" fill="#111111"/><rect x="544" y="575" width="2" height="5" fill="#ff0000"/>
<rect x="548" y="572" width="4" height="9" fill="#111111"/><rect x="549" y="573" width="2" height="7" fill="#008000"/>
<rect x="553" y="566" width="4" height="15" fill="#111111"/><rect x="554" y="567" width="2" height="13" fill="#008000"/>
<rect x="558" y="565" width="4" height="16" fill="#111111"/><rect x="559" y="566" width="2" height="14" fill="#008000"/>
<rect x="563" y="570" width="4" height="11" fill="#111111"/><rect x="564" y="571" width="2" height="9" fill="#ff0000"/>
<rect x="568" y="570" width="4" height="11" fill="#111111"/><rect x="569" y="571" width="2" height="9" fill="#ff0000"/>
<rect x="573" y="568" width="4" height="13" fill="#111111"/><rect x="574" y="569" width="2" height="11" fill="#008000"/>
<rect x="578" y="571" width="4" height="10" fill="#111111"/><rect x="579" y="572" width="2" height="8" fill="#ff0000"/>
<rect x="583" y="554" width="4" height="27" fill="#111111"/><rect x="584" y="555" width="2" height="25" fill="#ff0000"/>
<rect x="588" y="560" width="4" height="21" fill="#111111"/><rect x="589" y="561" width="2" height="19" fill="#008000"/>
<rect x="593" y="561" width="4" height="20" fill="#111111"/><rect x="594" y="562" width="2" height="18" fill="#008000"/>
<rect x="598" y="564" width="4" height="17" fill="#111111"/><rect x="599" y="565" width="2" height="15" fill="#ff0000"/>
<rect x="603" y="565" width="4" height="16" fill="#111111"/><rect x="604" y="566" width="2" height="14" fill="#008000"/>
<rect x="608" y="557" width="4" height="24" fill="#111111"/><rect x="609" y="558" width="2" height="22" fill="#008000"/>
<rect x="613" y="561" width="4" height="20" fill="#111111"/><rect x="614" y="562" width="2" height="18" fill="#008000"/>
<rect x="618" y="566" width="5" height="15" fill="#111111"/><rect x="619" y="567" width="3" height="13" fill="#ff0000"/>
<rect x="624" y="567" width="4" height="14" fill="#111111"/><rect x="625" y="568" width="2" height="12" fill="#ff0000"/>
<rect x="629" y="571" width="4" height="10" fill="#111111"/><rect x="630" y="572" width="2" height="8" fill="#008000"/>
<rect x="634" y="566" width="4" height="15" fill="#111111"/><rect x="635" y="567" width="2" height="13" fill="#ff0000"/>
<rect x="639" y="566" width="4" height="15" fill="#111111"/><rect x="640" y="567" width="2" height="13" fill="#ff0000"/>
<rect x="644" y="565" width="4" height="16" fill="#111111"/><rect x="645" y="566" width="2" height="14" fill="#008000"/>
<rect x="649" y="548" width="4" height="33" fill="#111111"/><rect x="650" y="549" width="2" height="31" fill="#008000"/>
<rect x="654" y="556" width="4" height="25" fill="#111111"/><rect x="655" y="557" width="2" height="23" fill="#ff0000"/>
<rect x="659" y="563" width="4" height="18" fill="#111111"/><rect x="660" y="564" width="2" height="16" fill="#008000"/>
<rect x="664" y="564" width="4" height="17" fill="#111111"/><rect x="665" y="565" width="2" height="15" fill="#ff0000"/>
<rect x="669" y="565" width="4" height="16" fill="#111111"/><rect x="670" y="566" width="2" height="14" fill="#008000"/>
<rect x="674" y="570" width="4" height="11" fill="#111111"/><rect x="675" y="571" width="2" height="9" fill="#008000"/>
<rect x="679" y="567" width="4" height="14" fill="#111111"/><rect x="680" y="568" width="2" height="12" fill="#008000"/>
<rect x="684" y="565" width="4" height="16" fill="#111111"/><rect x="685" y="566" width="2" height="14" fill="#ff0000"/>
<rect x="689" y="559" width="4" height="22" fill="#111111"/><rect x="690" y="560" width="2" height="20" fill="#ff0000"/>
<rect x="694" y="565" width="4" height="16" fill="#111111"/><rect x="695" y="566" width="2" height="14" fill="#ff0000"/>
<rect x="699" y="564" width="4" height="17" fill="#111111"/><rect x="700" y="565" width="2" height="15" fill="#ff0000"/>
<rect x="704" y="572" width="4" height="9" fill="#111111"/><rect x="705" y="573" width="2" height="7" fill="#008000"/>
<rect x="710" y="568" width="4" height="13" fill="#111111"/><rect x="711" y="569" width="2" height="11" fill="#008000"/>
<rect x="715" y="566" width="4" height="15" fill="#111111"/><rect x="716" y="567" width="2" height="13" fill="#008000"/>
<rect x="720" y="568" width="4" height="13" fill="#111111"/><rect x="721" y="569" width="2" height="11" fill="#ff0000"/>
<rect x="725" y="573" width="4" height="8" fill="#111111"/><rect x="726" y="574" width="2" height="6" fill="#008000"/>
<rect x="730" y="570" width="4" height="11" fill="#111111"/><rect x="731" y="571" width="2" height="9" fill="#ff0000"/>
<rect x="735" y="569" width="4" height="12" fill="#111111"/><rect x="736" y="570" width="2" height="10" fill="#008000"/>
<rect x="740" y="569" width="4" height="12" fill="#111111"/><rect x="741" y="570" width="2" height="10" fill="#008000"/>
<rect x="745" y="570" width="4" height="11" fill="#111111"/><rect x="746" y="571" width="2" height="9" fill="#ff0000"/>
<rect x="750" y="569" width="4" height="12" fill="#111111"/><rect x="751" y="570" width="2" height="10" fill="#008000"/>
<rect x="755" y="568" width="4" height="13" fill="#111111"/><rect x="756" y="569" width="2" height="11" fill="#008000"/>
<rect x="760" y="564" width="4" height="17" fill="#111111"/><rect x="761" y="565" width="2" height="15" fill="#ff0000"/>
<rect x="765" y="566" width="4" height="15" fill="#111111"/><rect x="766" y="567" width="2" height="13" fill="#ff0000"/>
<rect x="770" y="568" width="4" height="13" fill="#111111"/><rect x="771" y="569" width="2" height="11" fill="#008000"/>
<rect x="775" y="570" width="4" height="11" fill="#111111"/><rect x="776" y="571" width="2" height="9" fill="#ff0000"/>
<rect x="780" y="572" width="4" height="9" fill="#111111"/><rect x="781" y="573" width="2" height="7" fill="#ff0000"/>
<rect x="785" y="567" width="4" height="14" fill="#111111"/><rect x="786" y="568" width="2" height="12" fill="#ff0000"/>
<rect x="790" y="566" width="4" height="15" fill="#111111"/><rect x="791" y="567" width="2" height="13" fill="#ff0000"/>
<rect x="795" y="565" width="5" height="16" fill="#111111"/><rect x="796" y="566" width="3" height="14" fill="#ff0000"/>
<rect x="801" y="571" width="4" height="10" fill="#111111"/><rect x="802" y="572" width="2" height="8" fill="#ff0000"/>
<rect x="806" y="569" width="4" height="12" fill="#111111"/><rect x="807" y="570" width="2" height="10" fill="#ff0000"/>
<rect x="811" y="568" width="4" height="13" fill="#111111"/><rect x="812" y="569" width="2" height="11" fill="#008000"/>
<rect x="816" y="566" width="4" height="15" fill="#111111"/><rect x="817" y="567" width="2" height="13" fill="#008000"/>
<rect x="821" y="571" width="4" height="10" fill="#111111"/><rect x="822" y="572" width="2" height="8" fill="#ff0000"/>
<rect x="826" y="574" width="4" height="7" fill="#111111"/><rect x="827" y="575" width="2" height="5" fill="#008000"/>
<rect x="831" y="570" width="4" height="11" fill="#111111"/><rect x="832" y="571" width="2" height="9" fill="#ff0000"/>
<rect x="836" y="574" width="4" height="7" fill="#111111"/><rect x="837" y="575" width="2" height="5" fill="#ff0000"/>
<rect x="841" y="572" width="4" height="9" fill="#111111"/><rect x="842" y="573" width="2" height="7" fill="#ff0000"/>
<rect x="846" y="570" width="4" height="11" fill="#111111"/><rect x="847" y="571" width="2" height="9" fill="#ff0000"/>
<rect x="851" y="568" width="4" height="13" fill="#111111"/><rect x="852" y="569" width="2" height="11" fill="#008000"/>
<rect x="856" y="573" width="4" height="8" fill="#111111"/><rect x="857" y="574" width="2" height="6" fill="#ff0000"/>
<rect x="861" y="571" width="4" height="10" fill="#111111"/><rect x="862" y="572" width="2" height="8" fill="#008000"/>
<rect x="866" y="574" width="4" height="7" fill="#111111"/><rect x="867" y="575" width="2" height="5" fill="#ff0000"/>
<rect x="871" y="573" width="4" height="8" fill="#111111"/><rect x="872" y="574" width="2" height="6" fill="#008000"/>
<rect x="876" y="568" width="4" height="13" fill="#111111"/><rect x="877" y="569" width="2" height="11" fill="#ff0000"/>
<rect x="881" y="569" width="4" height="12" fill="#111111"/><rect x="882" y="570" width="2" height="10" fill="#008000"/>
<rect x="886" y="574" width="5" height="7" fill="#111111"/><rect x="887" y="575" width="3" height="5" fill="#ff0000"/>
<rect x="892" y="575" width="4" height="6" fill="#111111"/><rect x="893" y="576" width="2" height="4" fill="#008000"/>
<rect x="897" y="574" width="4" height="7" fill="#111111"/><rect x="898" y="575" width="2" height="5" fill="#008000"/>
<rect x="902" y="575" width="4" height="6" fill="#111111"/><rect x="903" y="576" width="2" height="4" fill="#ff0000"/>
<rect x="907" y="568" width="4" height="13" fill="#111111"/><rect x="908" y="569" width="2" height="11" fill="#ff0000"/>
<rect x="912" y="570" width="4" height="11" fill="#111111"/><rect x="913" y="571" width="2" height="9" fill="#008000"/>
<rect x="917" y="570" width="4" height="11" fill="#111111"/><rect x="918" y="571" width="2" height="9" fill="#008000"/>
<rect x="922" y="569" width="4" height="12" fill="#111111"/><rect x="923" y="570" width="2" height="10" fill="#008000"/>
<rect x="927" y="569" width="4" height="12" fill="#111111"/><rect x="928" y="570" width="2" height="10" fill="#ff0000"/>
<rect x="932" y="553" width="4" height="28" fill="#111111"/><rect x="933" y="554" width="2" height="26" fill="#ff0000"/>
<rect x="937" y="568" width="4" height="13" fill="#111111"/><rect x="938" y="569" width="2" height="11" fill="#ff0000"/>
</g>
<g stroke="#bcbcbc" stroke-width="2" fill="none" stroke-linecap="square">
<rect x="51.0" y="39.0" width="930.0" height="546.6"/>
<line x1="51.0" y1="450.0" x2="981.0" y2="450.0"/>
</g>
<text class="ttl" x="516.3" y="30.6" text-anchor="middle">RVTY, triangle_flag, pattern date:2026-03-31, last quote:2026-04-24</text>
<text class="tk" x="21.26 29.17 37.66" y="48.0">120</text>
<text class="tk" x="21.26 29.06 37.66" y="139.0">110</text>
<text class="tk" x="21.26 28.87 37.66" y="230.0">100</text>
<text class="tk" x="30.11 38.06" y="321.0">90</text>
<text class="tk" x="29.24 38.06" y="412.0">80</text>
<text class="tk" x="29.26 37.06" y="485.1">10</text>
<text class="tk" x="38.10" y="536.1">5</text>
<text class="tk" x="39.06" y="586.1">0</text>
<text class="tk" text-anchor="end" transform="translate(91.90,600.2) rotate(-45)">2025-08-25</text>
<text class="tk" text-anchor="end" transform="translate(142.48,600.2) rotate(-45)">2025-09-09</text>
<text class="tk" text-anchor="end" transform="translate(193.05,600.2) rotate(-45)">2025-09-23</text>
<text class="tk" text-anchor="end" transform="translate(243.63,600.2) rotate(-45)">2025-10-07</text>
<text class="tk" text-anchor="end" transform="translate(294.20,600.2) rotate(-45)">2025-10-21</text>
<text class="tk" text-anchor="end" transform="translate(344.77,600.2) rotate(-45)">2025-11-04</text>
<text class="tk" text-anchor="end" transform="translate(395.35,600.2) rotate(-45)">2025-11-18</text>
<text class="tk" text-anchor="end" transform="translate(445.93,600.2) rotate(-45)">2025-12-03</text>
<text class="tk" text-anchor="end" transform="translate(496.50,600.2) rotate(-45)">2025-12-17</text>
<text class="tk" text-anchor="end" transform="translate(547.08,600.2) rotate(-45)">2026-01-02</text>
<text class="tk" text-anchor="end" transform="translate(597.65,600.2) rotate(-45)">2026-01-16</text>
<text class="tk" text-anchor="end" transform="translate(648.23,600.2) rotate(-45)">2026-02-02</text>
<text class="tk" text-anchor="end" transform="translate(698.80,600.2) rotate(-45)">2026-02-17</text>
<text class="tk" text-anchor="end" transform="translate(749.38,600.2) rotate(-45)">2026-03-03</text>
<text class="tk" text-anchor="end" transform="translate(799.95,600.2) rotate(-45)">2026-03-17</text>
<text class="tk" text-anchor="end" transform="translate(850.52,600.2) rotate(-45)">2026-03-31</text>
<text class="tk" text-anchor="end" transform="translate(901.10,600.2) rotate(-45)">2026-04-15</text>
</svg></body></html>
